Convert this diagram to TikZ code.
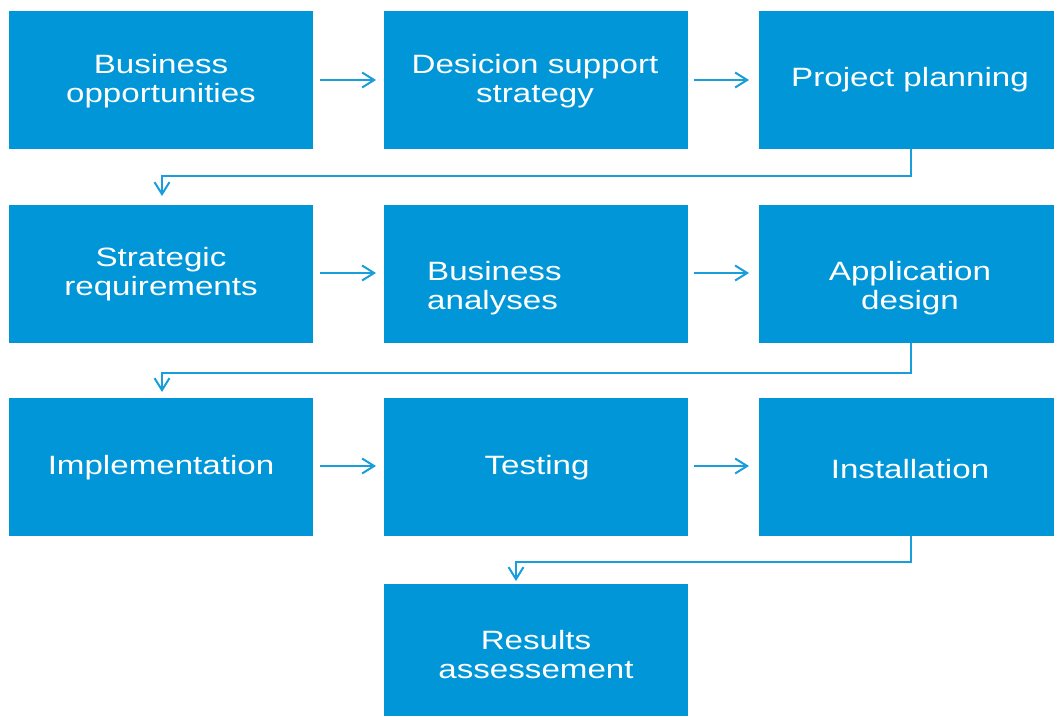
\documentclass[tikz,border=0pt]{standalone}
\usepackage{fontspec}
\setmainfont{Liberation Sans}[FakeStretch=1.25]
\usetikzlibrary{arrows.meta}
\definecolor{boxblue}{HTML}{0096D7}
\definecolor{lineblue}{HTML}{1A9DDB}
\begin{document}
\begin{tikzpicture}[x=1pt,y=-1pt,
  box/.style={draw=none,fill=boxblue,minimum width=304pt,minimum height=138pt,inner sep=0pt,anchor=north west},
  lbl/.style={text=white,align=center,inner sep=0pt,font=\fontsize{26.5}{29}\selectfont},
  conn/.style={draw=lineblue,line width=1.4pt,-{Straight Barb[length=12pt,width=15pt,line width=2pt]}}]
\useasboundingbox (0,0) rectangle (1054,715);
% boxes
\node[box] (b1) at (9,11) {};
\node[box] (b2) at (384,11) {};
\node[box] (b3) at (759,11) {};
\node[box] (b4) at (9,205) {};
\node[box] (b5) at (384,205) {};
\node[box] (b6) at (759,205) {};
\node[box] (b7) at (9,398) {};
\node[box] (b8) at (384,398) {};
\node[box] (b9) at (759,398) {};
\node[box] (b10) at (384,584) {};
% labels
\node[lbl] (t1) at (161,81) {Business\\opportunities};
\node[lbl] (t2) at (535,81) {Desicion support\\strategy};
\node[lbl] (t3) at (910,80) {Project planning};
\node[lbl] (t4) at (161,274) {Strategic\\requirements};
\node[lbl,anchor=west,align=left] (t5) at (427,288) {Business\\analyses};
\node[lbl] (t6) at (910,288) {Application\\design};
\node[lbl] (t7) at (161,468) {Implementation};
\node[lbl] (t8) at (537,468) {Testing};
\node[lbl] (t9) at (910,469) {Installation};
\node[lbl] (t10) at (536,655) {Results\\assessement};
% coordinates for connectors
\coordinate (a1s) at (320,80);  \coordinate (a1e) at (376,80);
\coordinate (a2s) at (694,80);  \coordinate (a2e) at (749,80);
\coordinate (a3s) at (320,273); \coordinate (a3e) at (376,273);
\coordinate (a4s) at (694,273); \coordinate (a4e) at (749,273);
\coordinate (a5s) at (320,466); \coordinate (a5e) at (376,466);
\coordinate (a6s) at (694,466); \coordinate (a6e) at (749,466);
\draw[conn] (a1s) -- (a1e);
\draw[conn] (a2s) -- (a2e);
\draw[conn] (a3s) -- (a3e);
\draw[conn] (a4s) -- (a4e);
\draw[conn] (a5s) -- (a5e);
\draw[conn] (a6s) -- (a6e);
\draw[conn] (911,149) |- (162,176) -- (162,196);
\draw[conn] (911,343) |- (162,373) -- (162,392);
\draw[conn] (911,536) |- (516,562) -- (516,581);
\end{tikzpicture}
\end{document}
